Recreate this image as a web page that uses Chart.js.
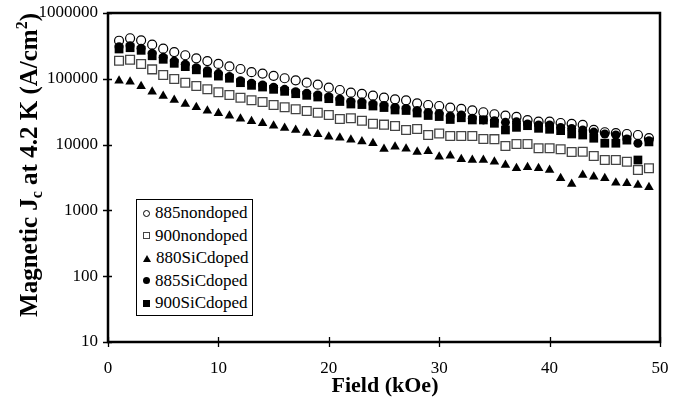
<!DOCTYPE html>
<html>
<head>
<meta charset="utf-8">
<script src="https://cdn.jsdelivr.net/npm/chart.js@4.4.0/dist/chart.umd.min.js"></script>
<style>
  html, body { margin: 0; padding: 0; background: #fff; }
  #wrap { position: relative; width: 684px; height: 405px; }
  #legend {
    position: absolute; left: 136px; top: 199px; width: 117px; height: 117px;
    border: 1px solid #000; box-sizing: border-box; background: #fff;
    font-family: "Liberation Serif", serif; font-size: 17px; color: #000;
    padding-top: 2px;
  }
  .row { height: 22.6px; line-height: 22.6px; white-space: nowrap; }
  .sym { display: inline-block; margin: 0 5px 0 6px; vertical-align: middle; position: relative; top: -1px; box-sizing: border-box; }
  .ocirc { width: 7px; height: 7px; border: 1px solid #000; border-radius: 50%; }
  .osq { width: 7px; height: 7px; border: 1px solid #444; }
  .tri { width: 0; height: 0; border-left: 4px solid transparent; border-right: 4px solid transparent; border-bottom: 7px solid #000; }
  .fcirc { width: 7px; height: 7px; background: #000; border-radius: 50%; }
  .fsq { width: 7px; height: 7px; background: #000; }
</style>
</head>
<body>
<div id="wrap">
  <canvas id="JcChart" width="684" height="405"></canvas>
  <div id="legend"></div>
</div>
<script>
// field in kOe
const field = [1, 2, 3, 4, 5, 6, 7, 8, 9, 10, 11, 12, 13, 14, 15, 16, 17, 18, 19, 20,
  21, 22, 23, 24, 25, 26, 27, 28, 29, 30, 31, 32, 33, 34, 35, 36, 37, 38, 39, 40,
  41, 42, 43, 44, 45, 46, 47, 48, 49];

// Jc in A/cm2
const jc885nondoped = [379000, 413000, 385000, 330000, 287000, 255000, 228000, 205000, 186000, 168000,
  154000, 141000, 126000, 120000, 111000, 102000, 94900, 87300, 81300, 73200,
  67600, 61500, 58800, 55400, 51600, 48800, 47100, 42400, 40000, 38600,
  36400, 34800, 33200, 31000, 28900, 27500, 26300, 23600, 22300, 22300,
  21300, 20600, 19900, 16700, 15400, 14900, 14500, 14000, 12500];
const jc900nondoped = [188000, 195000, 168000, 139000, 114000, 99300, 87300, 77800, 69200, 62400,
  56700, 51600, 47100, 44400, 40000, 36900, 34400, 32400, 30500, 28200,
  24500, 25100, 23100, 20800, 20100, 19200, 16700, 17300, 14000, 14700,
  13500, 13500, 13500, 12200, 12100, 9530, 10200, 10200, 8790, 8790,
  8490, 7730, 7800, 6710, 5830, 5830, 5500, 4110, 4370];
const jc880SiCdoped = [93600, 90300, 76900, 63700, 54800, 47600, 41400, 36900, 32700, 29900,
  27400, 24800, 22600, 21100, 19400, 17900, 16700, 15000, 14400, 13200,
  12700, 11900, 11100, 10500, 8570, 9290, 8670, 7730, 7910, 6550,
  6780, 5980, 5830, 5830, 5500, 4900, 4370, 4520, 4370, 4110,
  3070, 2520, 3450, 3250, 3070, 2640, 2580, 2430, 2240];
const jc885SiCdoped = [307000, 318000, 291000, 244000, 212000, 186000, 166000, 147000, 133000, 120000,
  108000, 93600, 85500, 80500, 74300, 69200, 63700, 60200, 56700, 53500,
  49300, 45200, 44400, 41400, 39300, 36600, 35400, 33000, 30800, 29700,
  27200, 28200, 25100, 23700, 23100, 21800, 22300, 20600, 19900, 19900,
  18200, 17600, 16700, 15500, 14500, 14000, 12200, 10500, 11400];
const jc900SiCdoped = [284000, 297000, 271000, 224000, 198000, 172000, 153000, 137000, 122000, 110000,
  102000, 87300, 79600, 75000, 69200, 64500, 59400, 56100, 52900, 49900,
  45200, 41400, 40600, 38600, 36600, 33600, 33000, 30200, 27700, 26700,
  24100, 25600, 23700, 23700, 21100, 16700, 18300, 19400, 17700, 17100,
  16300, 14500, 14000, 12500, 10500, 10500, 11700, 5830, 11000];

const yTicks = [10, 100, 1000, 10000, 100000, 1000000];
const xTicks = [0, 10, 20, 30, 40, 50];
const xTitle = 'Field (kOe)';
const yTitle = [['Magnetic J', ''], ['c', 'sub'], [' at 4.2 K (A/cm', ''], ['2', 'sup'], [')', '']];

function toPoints(vals) {
    return vals.map((v, i) => ({ x: field[i], y: v }));
}

const seriesInfo = [
    { label: '885nondoped', data: jc885nondoped, style: 'circle', r: 4.5, bg: '#fff', bc: '#000', bw: 1.2, cls: 'ocirc' },
    { label: '900nondoped', data: jc900nondoped, style: 'rect', r: 6.2, bg: '#fff', bc: '#444', bw: 1.3, cls: 'osq' },
    { label: '880SiCdoped', data: jc880SiCdoped, style: 'triangle', r: 5.5, bg: '#000', bc: '#000', bw: 0, cls: 'tri' },
    { label: '885SiCdoped', data: jc885SiCdoped, style: 'circle', r: 4.5, bg: '#000', bc: '#000', bw: 0, cls: 'fcirc' },
    { label: '900SiCdoped', data: jc900SiCdoped, style: 'rect', r: 6.2, bg: '#000', bc: '#000', bw: 0, cls: 'fsq' }
];

const legendBox = document.getElementById('legend');
seriesInfo.forEach(s => {
    const row = document.createElement('div');
    row.className = 'row';
    row.innerHTML = '<span class="sym ' + s.cls + '"></span>' + s.label;
    legendBox.appendChild(row);
});

const frameAndTitles = {
    id: 'frameAndTitles',
    afterDraw(chart) {
        const ctx = chart.ctx;
        const a = chart.chartArea;
        ctx.save();
        ctx.strokeStyle = '#000';
        ctx.lineWidth = 2.5;
        ctx.strokeRect(a.left, a.top, a.right - a.left, a.bottom - a.top);

        ctx.lineWidth = 1.3;
        ctx.beginPath();
        chart.scales.y.ticks.forEach(t => {
            const py = Math.round(chart.scales.y.getPixelForValue(t.value)) + 0.5;
            ctx.moveTo(a.left - 5, py);
            ctx.lineTo(a.left + 4, py);
        });
        chart.scales.x.ticks.forEach(t => {
            const px = Math.round(chart.scales.x.getPixelForValue(t.value)) + 0.5;
            ctx.moveTo(px, a.bottom - 5);
            ctx.lineTo(px, a.bottom + 5);
        });
        ctx.stroke();

        ctx.fillStyle = '#000';
        ctx.font = 'bold 22px "Liberation Serif"';
        ctx.textAlign = 'center';
        ctx.textBaseline = 'middle';
        ctx.fillText(xTitle, 385, 386);

        // y title, rotated, with subscript and superscript
        const big = 'bold 25px "Liberation Serif"';
        const small = 'bold 16px "Liberation Serif"';
        ctx.translate(0, 165);
        ctx.rotate(-Math.PI / 2);
        ctx.textAlign = 'left';
        ctx.textBaseline = 'alphabetic';
        let total = 0;
        yTitle.forEach(p => {
            ctx.font = p[1] ? small : big;
            total += ctx.measureText(p[0]).width;
        });
        let pos = -total / 2;
        yTitle.forEach(p => {
            ctx.font = p[1] ? small : big;
            const dy = p[1] === 'sub' ? 5 : (p[1] === 'sup' ? -10 : 0);
            ctx.fillText(p[0], pos, 37 + dy);
            pos += ctx.measureText(p[0]).width;
        });
        ctx.restore();
    }
};

new Chart(document.getElementById('JcChart').getContext('2d'), {
    type: 'scatter',
    data: {
        datasets: seriesInfo.map((s, i) => ({
            label: s.label,
            data: toPoints(s.data),
            pointStyle: s.style,
            pointRadius: s.r,
            pointHoverRadius: s.r,
            backgroundColor: s.bg,
            borderColor: s.bc,
            borderWidth: s.bw,
            showLine: false,
            order: 5 - i
        }))
    },
    options: {
        responsive: false,
        animation: false,
        devicePixelRatio: 1,
        layout: { padding: { left: 0, right: 24, top: 13, bottom: 0 } },
        plugins: {
            legend: { display: false },
            tooltip: { enabled: false }
        },
        scales: {
            x: {
                type: 'linear',
                min: 0,
                max: 50,
                afterBuildTicks: s => { s.ticks = xTicks.map(v => ({ value: v })); },
                afterFit: s => { s.height = 63; s.paddingLeft = 0; s.paddingRight = 0; },
                grid: { display: false, drawTicks: false },
                border: { display: false },
                ticks: {
                    padding: 16,
                    color: '#000',
                    font: { family: 'Liberation Serif', size: 17 },
                    maxRotation: 0
                }
            },
            y: {
                type: 'logarithmic',
                min: 10,
                max: 1000000,
                afterBuildTicks: s => { s.ticks = yTicks.map(v => ({ value: v })); },
                afterFit: s => { s.width = 108; s.paddingTop = 0; s.paddingBottom = 0; },
                grid: { display: false, drawTicks: false },
                border: { display: false },
                ticks: {
                    padding: 10,
                    color: '#000',
                    font: { family: 'Liberation Serif', size: 17 },
                    callback: v => String(v)
                }
            }
        }
    },
    plugins: [frameAndTitles]
});
</script>
</body>
</html>
